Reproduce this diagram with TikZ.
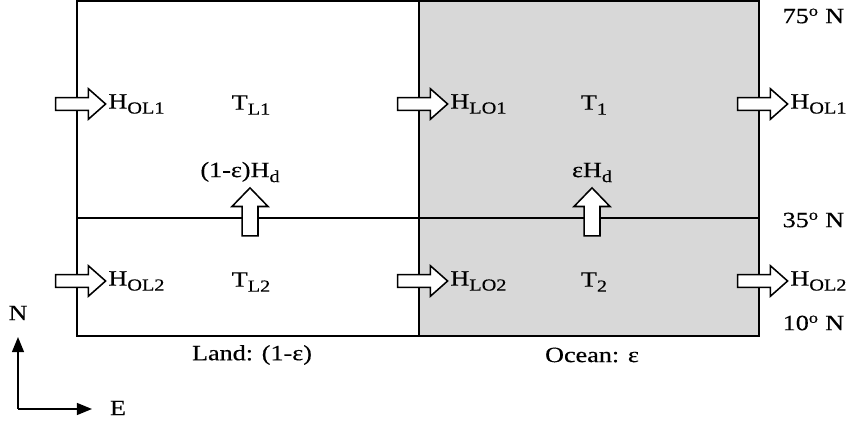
\documentclass[tikz,border=0pt]{standalone}
\usepackage{fontspec}
\setmainfont{Liberation Serif}[FakeStretch=1.2, FakeBold=0.4]
\usetikzlibrary{shapes.arrows, arrows.meta, positioning}
\definecolor{OceanGray}{RGB}{216, 216, 216}
\newcommand{\lowsub}[1]{\raisebox{-0.5ex}{\fontsize{12}{13}\selectfont #1}}

\begin{document}
\begin{tikzpicture}[
            x=0.025cm, y=-0.025cm,
            every node/.style={font=\fontsize{15.5}{18}\selectfont, inner sep=1pt},
            flux/.style={single arrow, draw=black, fill=white, line width=1.1pt, minimum height=1.25cm, single arrow head extend=0.22cm, inner sep=0.14cm, single arrow tip angle=83},
            fluxup/.style={flux, rotate=90, minimum height=1.2cm, single arrow head extend=0.25cm, inner sep=0.18cm, single arrow tip angle=88},
            arrow/.style={-{Triangle[length=0.38cm, width=0.3cm]}, line width=1.1pt}
        ]
            \useasboundingbox (0,0) rectangle (849,425);
            % ocean half and boxes
            \fill[OceanGray] (419,1) rectangle (759,336);
            \draw[line width=1.4pt] (77,1) rectangle (759,336);
            \draw[line width=1.4pt] (419,1) -- (419,336);
            \draw[line width=1.4pt] (77,218) -- (759,218);

            % zonal heat fluxes
            \node[flux] (fol1) at (77,104) {};
            \node[flux] (flo1) at (419,104) {};
            \node[flux] (fou1) at (759,104) {};
            \node[flux] (fol2) at (77,281) {};
            \node[flux] (flo2) at (419,281) {};
            \node[flux] (fou2) at (759,281) {};
            \node[right=0pt of fol1.tip] (hol1) {H\lowsub{OL1}};
            \node[right=0pt of flo1.tip] (hlo1) {H\lowsub{LO1}};
            \node[right=0pt of fou1.tip] (hou1) {H\lowsub{OL1}};
            \node[right=0pt of fol2.tip] (hol2) {H\lowsub{OL2}};
            \node[right=0pt of flo2.tip] (hlo2) {H\lowsub{LO2}};
            \node[right=0pt of fou2.tip] (hou2) {H\lowsub{OL2}};

            % meridional heat fluxes
            \node[fluxup] (fdl) at (250,216) {};
            \node[fluxup] (fdo) at (592,216) {};
            \node[above=2pt of fdl.tip, xshift=-0.25cm] (hdl) {(1-ε)H\lowsub{d}};
            \node[above=2pt of fdo.tip] (hdo) {εH\lowsub{d}};

            % temperatures
            \node (tl1) at (251,105) {T\lowsub{L1}};
            \node (t1) at (594,105) {T\lowsub{1}};
            \node (tl2) at (251,282) {T\lowsub{L2}};
            \node (t2) at (594,282) {T\lowsub{2}};

            % latitudes and regions
            \node[anchor=west] (lat75) at (781,16) {75\textsuperscript{o} N};
            \node[anchor=west] (lat35) at (781,220) {35\textsuperscript{o} N};
            \node[anchor=west] (lat10) at (781,323) {10\textsuperscript{o} N};
            \node (land) at (252,355) {Land: (1-ε)};
            \node (ocean) at (592,355) {Ocean: ε};

            % compass
            \coordinate (orig) at (18,409);
            \coordinate (ntip) at (18,337);
            \coordinate (etip) at (92,409);
            \node (north) at (18,313) {N};
            \node (east) at (118,408) {E};
            \draw[arrow] (orig) -- (ntip);
            \draw[arrow] (orig) -- (etip);
        \end{tikzpicture}
\end{document}
